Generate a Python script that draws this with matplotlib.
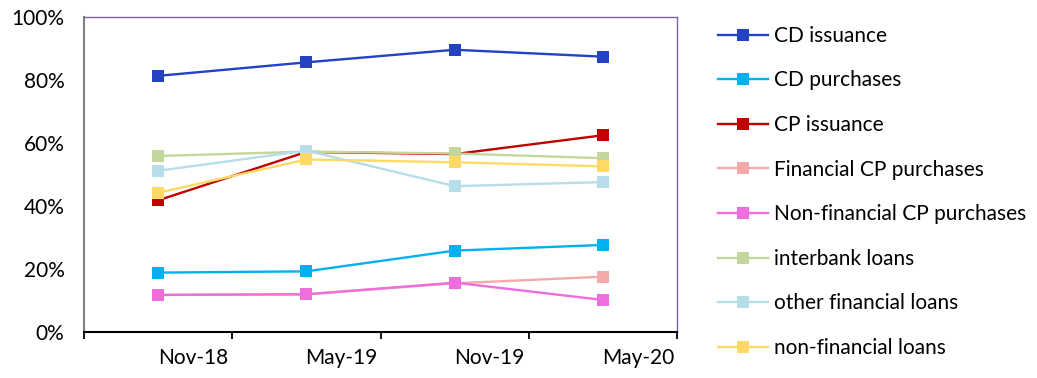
import matplotlib
matplotlib.use("Agg")
import matplotlib.pyplot as plt
from matplotlib.ticker import FixedLocator, FuncFormatter

periods = ["Nov-18", "May-19", "Nov-19", "May-20"]

cd_issuance = [81.4, 85.7, 89.7, 87.5]
cd_purchases = [18.8, 19.2, 25.8, 27.6]
cp_issuance = [41.8, 57.2, 56.5, 62.5]
fin_cp_purchases = [11.7, 11.9, 15.4, 17.5]
nonfin_cp_purchases = [11.7, 11.9, 15.6, 10.1]
interbank_loans = [55.9, 57.3, 56.7, 55.2]
other_fin_loans = [51.2, 57.6, 46.3, 47.6]
nonfin_loans = [44.2, 54.8, 53.9, 52.6]

series = [
    ("CD issuance", cd_issuance, "#2443C4"),
    ("CD purchases", cd_purchases, "#00B0F0"),
    ("CP issuance", cp_issuance, "#C00000"),
    ("Financial CP purchases", fin_cp_purchases, "#F4AAAA"),
    ("Non-financial CP purchases", nonfin_cp_purchases, "#EE6EDD"),
    ("interbank loans", interbank_loans, "#C3D69B"),
    ("other financial loans", other_fin_loans, "#B7DEE8"),
    ("non-financial loans", nonfin_loans, "#FFD966"),
]

plt.rcParams["font.family"] = ["Lato", "DejaVu Sans"]

fig = plt.figure(figsize=(10.37, 3.78), dpi=100)
ax = fig.add_axes([0.081, 0.1225, 0.572, 0.8315])

x = [i + 0.5 for i in range(len(periods))]
handles = []
for name, vals, color in series:
    h, = ax.plot(x, vals, color=color, lw=1.7, marker="s", markersize=8,
                 markeredgewidth=0, label=name)
    handles.append(h)

# Keep the magenta line above the pink one where they overlap
for h in handles:
    if h.get_label() == "Non-financial CP purchases":
        h.set_zorder(3)

ax.set_xlim(0, 4)
ax.set_ylim(0, 100)
ax.yaxis.set_major_locator(FixedLocator([0, 20, 40, 60, 80, 100]))
ax.yaxis.set_major_formatter(FuncFormatter(lambda v, p: f"{int(v)}%"))
ax.tick_params(axis="y", length=0, pad=14, labelsize=15)

ax.xaxis.set_major_locator(FixedLocator([0, 1, 2, 3, 4]))
ax.xaxis.set_minor_locator(FixedLocator([i + 0.735 for i in range(4)]))
ax.xaxis.set_major_formatter(FuncFormatter(lambda v, p: ""))
ax.set_xticklabels(periods, minor=True)
ax.tick_params(axis="x", which="major", direction="out", length=5, width=1.3, color="black")
ax.tick_params(axis="x", which="minor", length=0, pad=12, labelsize=15)

ax.spines["left"].set_color("#808080")
ax.spines["left"].set_linewidth(1.5)
ax.spines["top"].set_color("#8064A2")
ax.spines["right"].set_color("#8064A2")
ax.spines["top"].set_linewidth(1.0)
ax.spines["right"].set_linewidth(1.0)
ax.spines["bottom"].set_color("black")
ax.spines["bottom"].set_linewidth(1.5)

leg = fig.legend(handles=handles, loc="upper left", bbox_to_anchor=(0.686, 0.948),
                 frameon=False, fontsize=15, handlelength=2.4, handletextpad=0.3,
                 labelspacing=1.18, markerscale=1.0, borderaxespad=0, borderpad=0.3)

fig.savefig("out.png", dpi=100)
